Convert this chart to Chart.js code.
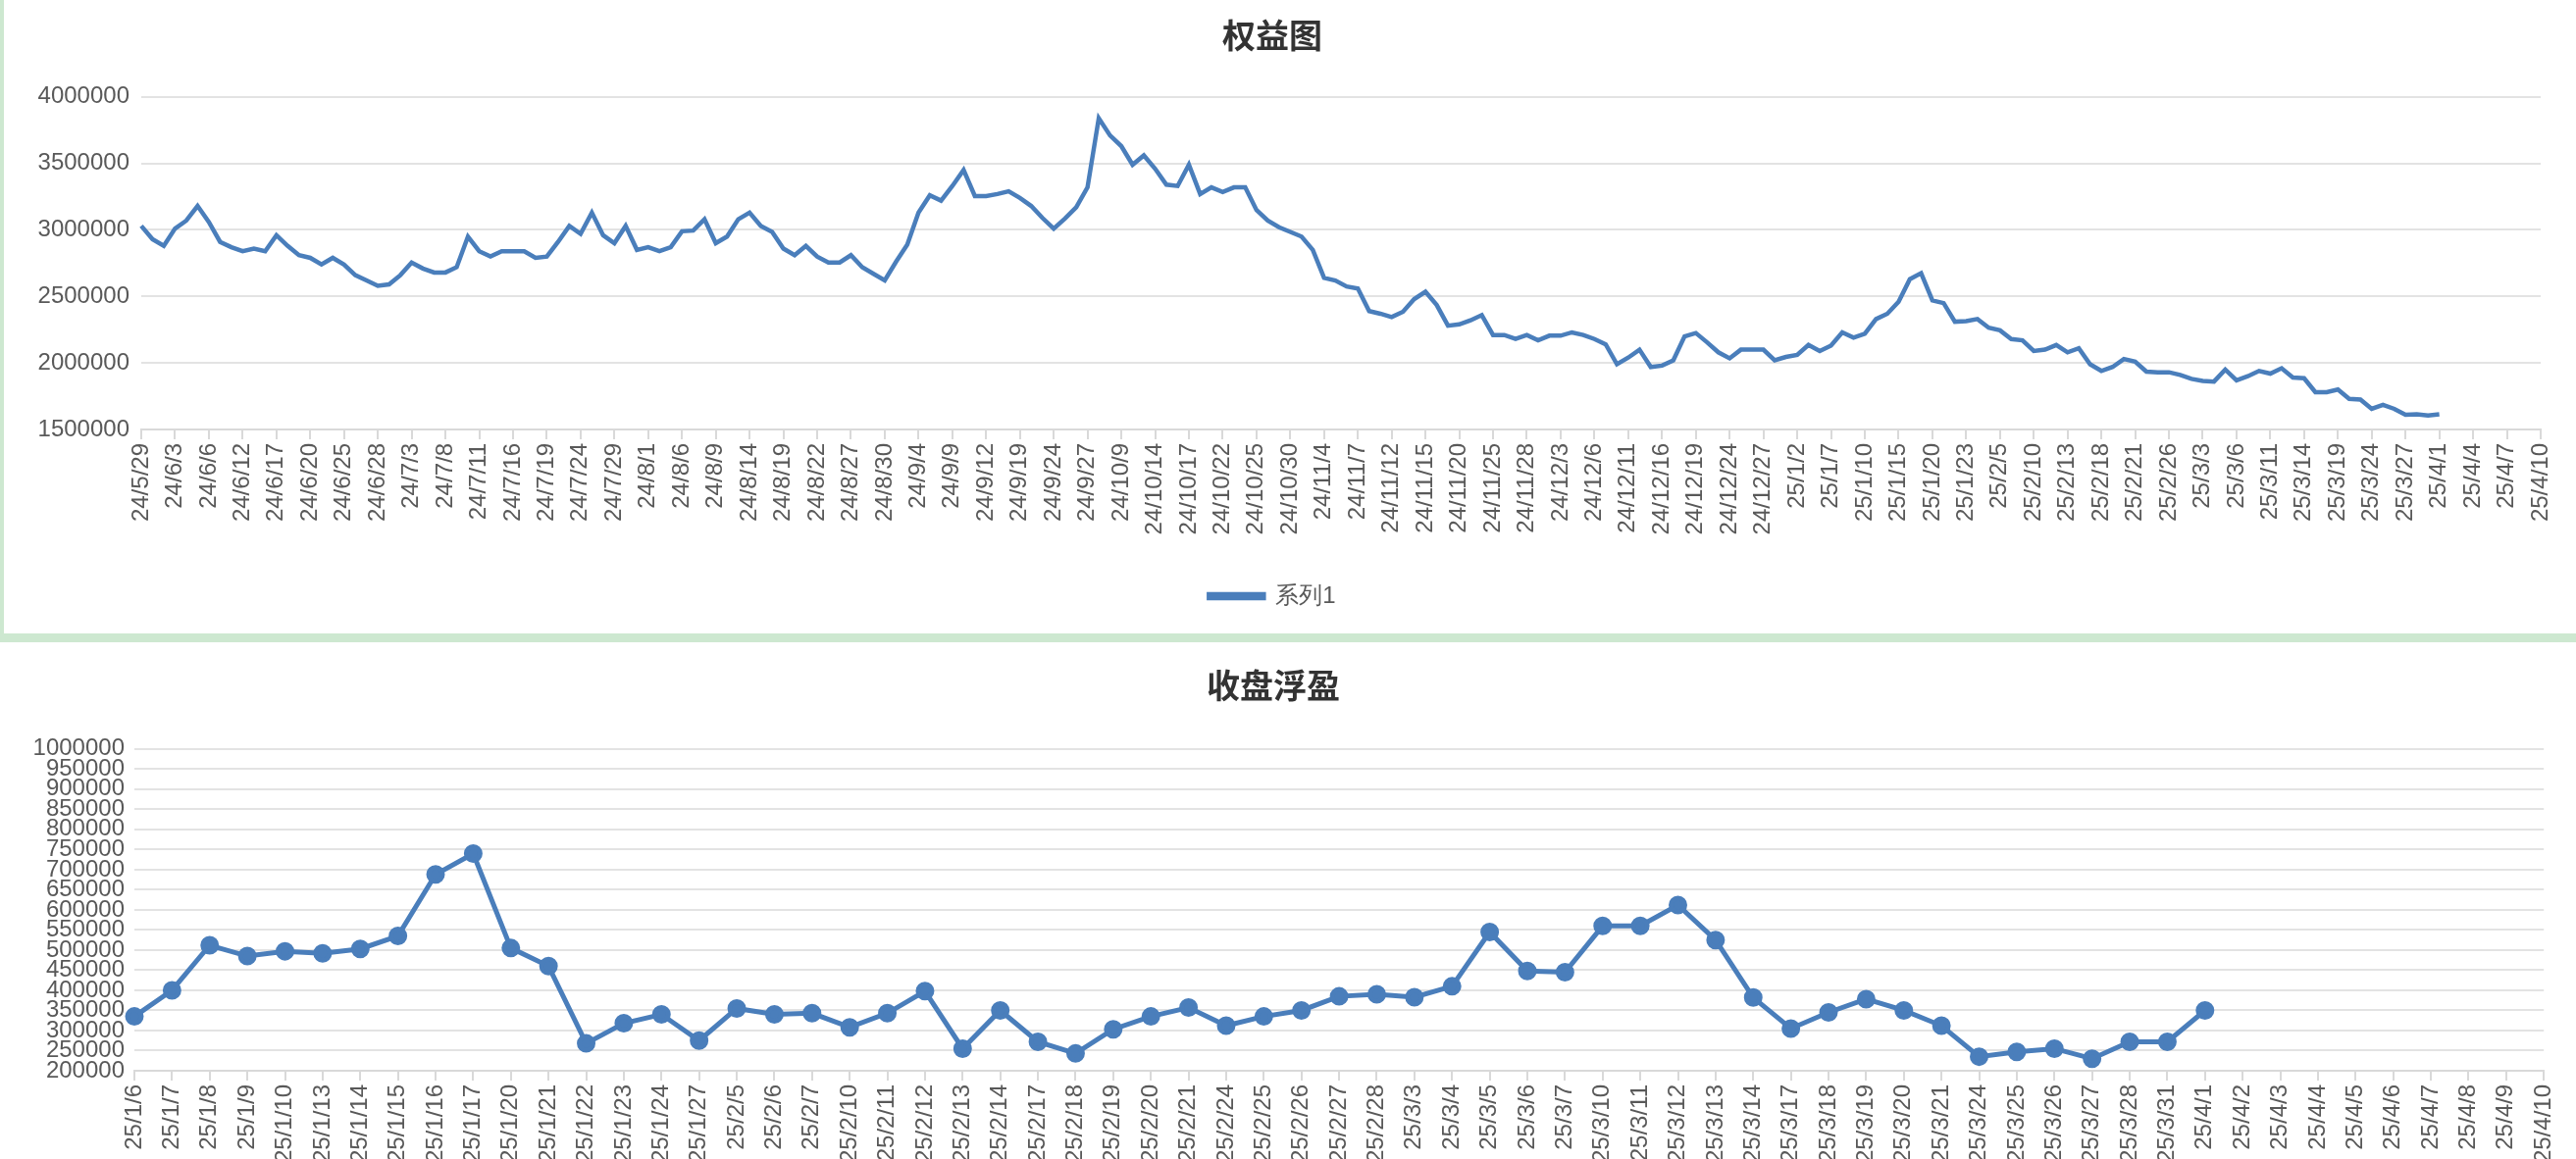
<!DOCTYPE html>
<html>
<head>
<meta charset="utf-8">
<script src="https://cdn.jsdelivr.net/npm/chart.js@4"></script>
<style>
  html, body { margin: 0; padding: 0; background: #fff; overflow: hidden; }
  body { width: 2626px; height: 1182px; }
  #top { position: absolute; left: 0; top: 0; width: 2622px; height: 646px; border-left: 4px solid #cde8d0; }
  #band { position: absolute; left: 0; top: 646px; width: 2626px; height: 9px; background: #cde8d0; }
  #bottom { position: absolute; left: 0; top: 655px; width: 2626px; height: 587px; }
</style>
</head>
<body>
<div id="top"><canvas id="equity-chart"></canvas></div>
<div id="band"></div>
<div id="bottom"><canvas id="float-chart"></canvas></div>
<script>
// trading days for the equity chart (ends with a few empty days)
const equityDates = [
  '24/5/29','24/5/30','24/5/31',
  '24/6/3','24/6/4','24/6/5','24/6/6','24/6/7','24/6/11','24/6/12','24/6/13','24/6/14','24/6/17','24/6/18','24/6/19','24/6/20','24/6/21','24/6/24','24/6/25','24/6/26','24/6/27','24/6/28',
  '24/7/1','24/7/2','24/7/3','24/7/4','24/7/5','24/7/8','24/7/9','24/7/10','24/7/11','24/7/12','24/7/15','24/7/16','24/7/17','24/7/18','24/7/19','24/7/22','24/7/23','24/7/24','24/7/25','24/7/26','24/7/29','24/7/30','24/7/31',
  '24/8/1','24/8/2','24/8/5','24/8/6','24/8/7','24/8/8','24/8/9','24/8/12','24/8/13','24/8/14','24/8/15','24/8/16','24/8/19','24/8/20','24/8/21','24/8/22','24/8/23','24/8/26','24/8/27','24/8/28','24/8/29','24/8/30',
  '24/9/2','24/9/3','24/9/4','24/9/5','24/9/6','24/9/9','24/9/10','24/9/11','24/9/12','24/9/13','24/9/18','24/9/19','24/9/20','24/9/23','24/9/24','24/9/25','24/9/26','24/9/27','24/9/30',
  '24/10/8','24/10/9','24/10/10','24/10/11','24/10/14','24/10/15','24/10/16','24/10/17','24/10/18','24/10/21','24/10/22','24/10/23','24/10/24','24/10/25','24/10/28','24/10/29','24/10/30','24/10/31',
  '24/11/1','24/11/4','24/11/5','24/11/6','24/11/7','24/11/8','24/11/11','24/11/12','24/11/13','24/11/14','24/11/15','24/11/18','24/11/19','24/11/20','24/11/21','24/11/22','24/11/25','24/11/26','24/11/27','24/11/28','24/11/29',
  '24/12/2','24/12/3','24/12/4','24/12/5','24/12/6','24/12/9','24/12/10','24/12/11','24/12/12','24/12/13','24/12/16','24/12/17','24/12/18','24/12/19','24/12/20','24/12/23','24/12/24','24/12/25','24/12/26','24/12/27','24/12/30','24/12/31',
  '25/1/2','25/1/3','25/1/6','25/1/7','25/1/8','25/1/9','25/1/10','25/1/13','25/1/14','25/1/15','25/1/16','25/1/17','25/1/20','25/1/21','25/1/22','25/1/23','25/1/24','25/1/27',
  '25/2/5','25/2/6','25/2/7','25/2/10','25/2/11','25/2/12','25/2/13','25/2/14','25/2/17','25/2/18','25/2/19','25/2/20','25/2/21','25/2/24','25/2/25','25/2/26','25/2/27','25/2/28',
  '25/3/3','25/3/4','25/3/5','25/3/6','25/3/7','25/3/10','25/3/11','25/3/12','25/3/13','25/3/14','25/3/17','25/3/18','25/3/19','25/3/20','25/3/21','25/3/24','25/3/25','25/3/26','25/3/27','25/3/28','25/3/31',
  '25/4/1','25/4/2','25/4/3','25/4/4','25/4/5','25/4/6','25/4/7','25/4/8','25/4/9','25/4/10'
];

const equityValues = [
  3030000, 2930000, 2880000, 3010000, 3070000, 3180000, 3060000, 2910000, 2870000, 2840000,
  2860000, 2840000, 2960000, 2880000, 2810000, 2790000, 2740000, 2790000, 2740000, 2660000,
  2620000, 2580000, 2590000, 2660000, 2755000, 2710000, 2680000, 2680000, 2720000, 2950000,
  2840000, 2800000, 2840000, 2840000, 2840000, 2790000, 2800000, 2910000, 3030000, 2970000,
  3130000, 2960000, 2900000, 3030000, 2850000, 2870000, 2840000, 2870000, 2990000, 2995000,
  3080000, 2900000, 2950000, 3080000, 3130000, 3030000, 2985000, 2860000, 2810000, 2880000,
  2800000, 2755000, 2755000, 2810000, 2720000, 2670000, 2620000, 2760000, 2890000, 3130000,
  3260000, 3220000, 3330000, 3450000, 3255000, 3255000, 3270000, 3290000, 3240000, 3180000,
  3090000, 3010000, 3085000, 3170000, 3320000, 3840000, 3710000, 3630000, 3490000, 3560000,
  3460000, 3340000, 3330000, 3490000, 3270000, 3320000, 3285000, 3320000, 3320000, 3150000,
  3070000, 3020000, 2985000, 2950000, 2850000, 2640000, 2620000, 2575000, 2560000, 2390000,
  2370000, 2345000, 2385000, 2480000, 2535000, 2435000, 2280000, 2290000, 2320000, 2360000,
  2210000, 2210000, 2180000, 2210000, 2170000, 2205000, 2205000, 2230000, 2210000, 2180000,
  2140000, 1990000, 2040000, 2100000, 1970000, 1980000, 2020000, 2200000, 2225000, 2155000,
  2080000, 2035000, 2100000, 2100000, 2100000, 2020000, 2045000, 2060000, 2135000, 2090000,
  2130000, 2230000, 2190000, 2220000, 2330000, 2370000, 2460000, 2630000, 2675000, 2470000,
  2450000, 2310000, 2315000, 2330000, 2265000, 2245000, 2180000, 2170000, 2090000, 2100000,
  2135000, 2080000, 2110000, 1990000, 1940000, 1970000, 2030000, 2010000, 1935000, 1930000,
  1930000, 1910000, 1880000, 1865000, 1860000, 1950000, 1870000, 1900000, 1940000, 1920000,
  1960000, 1890000, 1885000, 1780000, 1780000, 1800000, 1730000, 1725000, 1655000, 1685000,
  1655000, 1610000, 1615000, 1605000, 1615000
];

const floatDates = [
  '25/1/6','25/1/7','25/1/8','25/1/9','25/1/10','25/1/13','25/1/14','25/1/15','25/1/16','25/1/17','25/1/20','25/1/21','25/1/22','25/1/23','25/1/24','25/1/27',
  '25/2/5','25/2/6','25/2/7','25/2/10','25/2/11','25/2/12','25/2/13','25/2/14','25/2/17','25/2/18','25/2/19','25/2/20','25/2/21','25/2/24','25/2/25','25/2/26','25/2/27','25/2/28',
  '25/3/3','25/3/4','25/3/5','25/3/6','25/3/7','25/3/10','25/3/11','25/3/12','25/3/13','25/3/14','25/3/17','25/3/18','25/3/19','25/3/20','25/3/21','25/3/24','25/3/25','25/3/26','25/3/27','25/3/28','25/3/31',
  '25/4/1','25/4/2','25/4/3','25/4/4','25/4/5','25/4/6','25/4/7','25/4/8','25/4/9','25/4/10'
];

const floatValues = [
  335000, 400000, 512000, 485000, 497000, 492000, 503000, 535000, 688000, 740000,
  505000, 460000, 268000, 318000, 340000, 275000, 355000, 340000, 343000, 308000,
  343000, 398000, 255000, 350000, 272000, 243000, 303000, 335000, 357000, 312000,
  335000, 350000, 385000, 390000, 383000, 410000, 545000, 448000, 445000, 560000,
  560000, 612000, 525000, 382000, 305000, 345000, 378000, 350000, 312000, 235000,
  247000, 255000, 230000, 272000, 272000, 350000
];

const lineColor = '#4a7ebb';
const tickColor = '#595959';
const gridColor = '#e3e3e3';
const labelFont = { family: 'Liberation Sans, Arial, sans-serif', size: 24 };
const titleFont = { family: 'Noto Sans CJK SC, sans-serif', size: 34, weight: 'bold' };
const plainNumber = function (value) { return String(value); };

new Chart(document.getElementById('equity-chart').getContext('2d'), {
  type: 'line',
  data: {
    labels: equityDates,
    datasets: [{
      label: '系列1',
      data: equityValues,
      borderColor: lineColor,
      backgroundColor: lineColor,
      borderWidth: 4.5,
      pointRadius: 0,
      tension: 0,
    }],
  },
  options: {
    responsive: true,
    maintainAspectRatio: false,
    animation: false,
    layout: { padding: { left: 0, right: 36, top: 0, bottom: 16 } },
    plugins: {
      title: {
        display: true,
        text: '权益图',
        color: '#333',
        font: titleFont,
        padding: { top: 16, bottom: 42 }
      },
      legend: {
        position: 'bottom',
        labels: { boxWidth: 56, boxHeight: 4, color: tickColor, font: labelFont, padding: 10 }
      },
      tooltip: { enabled: false }
    },
    scales: {
      y: {
        min: 1500000,
        max: 4000000,
        afterFit: function (scale) { scale.width = 140; },
        ticks: { stepSize: 500000, color: tickColor, font: labelFont, padding: 12, callback: plainNumber },
        grid: { color: gridColor, lineWidth: 2, drawTicks: false },
        border: { display: false }
      },
      x: {
        offset: false,
        afterFit: function (scale) { scale.height = 148; },
        ticks: {
          autoSkip: false,
          maxRotation: 90,
          minRotation: 90,
          color: tickColor,
          font: labelFont,
          padding: 4,
          callback: function (value, index) {
            return index % 3 === 0 ? equityDates[index] : '';
          }
        },
        grid: {
          drawOnChartArea: false,
          tickLength: 10,
          lineWidth: 2,
          color: function (ctx) { return ctx.index % 3 === 0 ? '#d9d9d9' : 'rgba(0,0,0,0)'; }
        },
        border: { color: '#d9d9d9', width: 2 }
      }
    }
  }
});

new Chart(document.getElementById('float-chart').getContext('2d'), {
  type: 'line',
  data: {
    labels: floatDates,
    datasets: [{
      label: '收盘浮盈',
      data: floatValues,
      borderColor: lineColor,
      backgroundColor: lineColor,
      borderWidth: 5,
      pointRadius: 7,
      pointBackgroundColor: lineColor,
      tension: 0,
    }],
  },
  options: {
    responsive: true,
    maintainAspectRatio: false,
    animation: false,
    layout: { padding: { left: 0, right: 30, top: 0, bottom: 0 } },
    plugins: {
      title: {
        display: true,
        text: '收盘浮盈',
        color: '#333',
        font: titleFont,
        padding: { top: 24, bottom: 44 }
      },
      legend: { display: false },
      tooltip: { enabled: false }
    },
    scales: {
      y: {
        min: 200000,
        max: 1000000,
        afterFit: function (scale) { scale.width = 137; },
        ticks: { stepSize: 50000, autoSkip: false, color: tickColor, font: labelFont, padding: 10, callback: plainNumber },
        grid: { color: gridColor, lineWidth: 2, drawTicks: false },
        border: { display: false }
      },
      x: {
        offset: false,
        afterFit: function (scale) { scale.height = 150; },
        ticks: {
          autoSkip: false,
          maxRotation: 90,
          minRotation: 90,
          color: tickColor,
          font: labelFont,
          padding: 4
        },
        grid: { drawOnChartArea: false, tickLength: 10, lineWidth: 2, color: '#d9d9d9' },
        border: { color: '#d9d9d9', width: 2 }
      }
    }
  }
});
</script>
</body>
</html>
